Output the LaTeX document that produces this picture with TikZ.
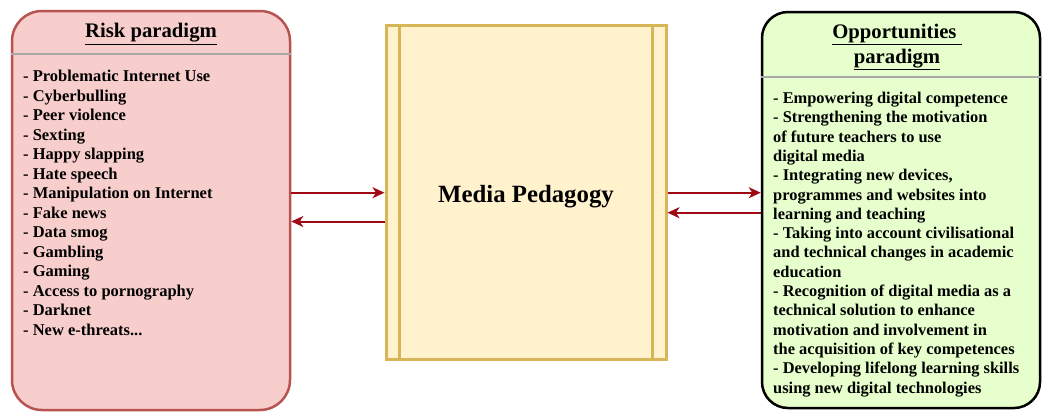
\documentclass[tikz,border=0pt]{standalone}
\usepackage{fontspec}
\setmainfont{Liberation Serif}
\usetikzlibrary{arrows.meta,calc}
\definecolor{riskfill}{HTML}{F8CECC}
\definecolor{riskline}{HTML}{B85450}
\definecolor{medfill}{HTML}{FFF2CC}
\definecolor{medline}{HTML}{D6B656}
\definecolor{oppfill}{HTML}{E6FFCC}
\definecolor{arrowred}{HTML}{A00A14}
\definecolor{sepgray}{HTML}{A8A8A8}
\tikzset{
  panel/.style={rectangle, rounded corners=30pt, line width=2.5pt, inner sep=0pt},
  sepline/.style={draw=sepgray, line width=1.5pt},
  title/.style={font=\bfseries\fontsize{20.7}{25}\selectfont, align=center, inner sep=0pt},
  items/.style={font=\bfseries\fontsize{16.5}{19.5}\selectfont, align=left, anchor=north west, inner sep=0pt},
  flow/.style={draw=arrowred, line width=2pt, -{Stealth[length=12pt,width=11pt,inset=3.5pt]}}
}
\begin{document}
\begin{tikzpicture}[x=1pt,y=-1pt]
\useasboundingbox (0,0) rectangle (1043,413);
% three main boxes
\node[panel, draw=riskline, fill=riskfill, minimum width=278pt, minimum height=399pt] (risk) at (151,210.5) {};
\node[rectangle, draw=medline, fill=medfill, line width=3pt, minimum width=280pt, minimum height=334pt, inner sep=0pt] (media) at (526,192) {};
\node[panel, draw=black, fill=oppfill, rounded corners=26pt, minimum width=278pt, minimum height=396pt] (opp) at (901,210) {};
% header separators
\draw[sepline] (risk.west |- 0,54) -- (risk.east |- 0,54);
\draw[sepline] (opp.west |- 0,77) -- (opp.east |- 0,77);
% side bars of the process box
\draw[medline, line width=3pt] ($(media.north west)+(15,0)$) -- ($(media.south west)+(15,0)$);
\draw[medline, line width=3pt] ($(media.north east)+(-15,0)$) -- ($(media.south east)+(-15,0)$);
% titles
\node[title] (risktitle) at (151,34) {\underline{Risk paradigm}};
\node[title] (opptitle) at (897,47) {\underline{Opportunities\ }\\\underline{paradigm}};
\node[font=\bfseries\fontsize{24.8}{30}\selectfont, inner sep=0pt] (mediatitle) at (526,197) {Media Pedagogy};
% lists
\node[items] (risklist) at (23,70) {- Problematic Internet Use\\- Cyberbulling\\- Peer violence\\- Sexting\\- Happy slapping\\- Hate speech\\- Manipulation on Internet\\- Fake news\\- Data smog\\- Gambling\\- Gaming\\- Access to pornography\\- Darknet\\- New e-threats...};
\node[items, font=\bfseries\fontsize{16.4}{19.3}\selectfont] (opplist) at (773,92) {- Empowering digital competence\\- Strengthening the motivation\\of future teachers to use\\digital media\\- Integrating new devices,\\programmes and websites into\\learning and teaching\\- Taking into account civilisational\\and technical changes in academic\\education\\- Recognition of digital media as a\\technical solution to enhance\\motivation and involvement in\\the acquisition of key competences\\- Developing lifelong learning skills\\using new digital technologies};
% connectors
\coordinate (ya) at (0,192.7);
\coordinate (yb) at (0,221.5);
\coordinate (yc) at (0,212.7);
\draw[flow] (risk.east |- ya) -- (media.west |- ya);
\draw[flow] (media.west |- yb) -- (risk.east |- yb);
\draw[flow] (media.east |- ya) -- (opp.west |- ya);
\draw[flow] (opp.west |- yc) -- (media.east |- yc);
\end{tikzpicture}
\end{document}
